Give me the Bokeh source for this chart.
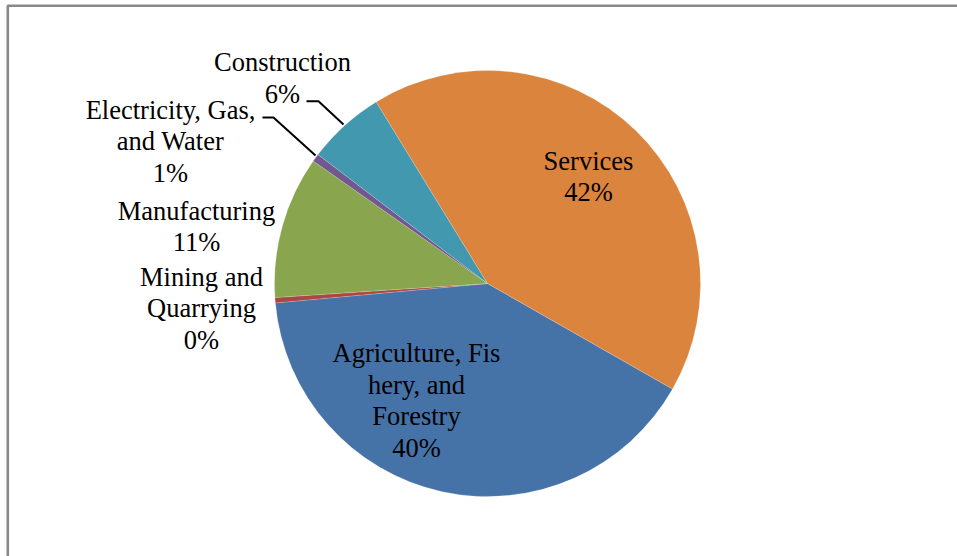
import math
from bokeh.plotting import figure
from bokeh.models import Range1d, ColumnDataSource
from bokeh.core.properties import value
from bokeh.embed import file_html
from bokeh.resources import INLINE

# ---- data ----
sectors = ["Agriculture, Fishery, and Forestry", "Mining and Quarrying", "Manufacturing",
           "Electricity, Gas, and Water", "Construction", "Services"]
label_texts = ["Agriculture, Fis\nhery, and\nForestry", "Mining and\nQuarrying", "Manufacturing",
               "Electricity, Gas,\nand Water", "Construction", "Services"]
shares = [40.3, 0.4, 10.8, 0.6, 5.9, 42.0]
colors = ["#4572A7", "#AA4643", "#89A54E", "#71588F", "#4198AF", "#DB843D"]

# ---- layout (page pixel coordinates) ----
W, H = 957, 556
CX, CY, R = 487, 283, 213
START_DEG = -29.7  # first slice starts here (math angle), going clockwise
label_pos = [(416, 400), (201, 308), (196, 226), (170, 141), (282, 77.5), (588, 176)]
leaders = {
    "Construction": [(306, 100.7), (318, 100.7), (343, 124)],
    "Electricity, Gas, and Water": [(262, 117), (273, 117), (315, 155)],
}

def fy(py):
    return H - py

total = sum(shares)
starts, ends = [], []
acc = 0.0
for v in shares:
    s = START_DEG - acc / total * 360.0
    e = s - v / total * 360.0
    starts.append(math.radians(s))
    ends.append(math.radians(e))
    acc += v

p = figure(width=W, height=H, output_backend="svg", toolbar_location=None,
           x_range=Range1d(0, W), y_range=Range1d(0, H),
           x_axis_type=None, y_axis_type=None, min_border=0,
           background_fill_color="white", border_fill_color="white",
           outline_line_color=None,
           styles={"position": "absolute", "left": "0px", "top": "0px"})
p.grid.visible = False

src = ColumnDataSource(dict(sector=sectors, share=shares, start=starts, end=ends, color=colors))
p.wedge(x=CX, y=fy(CY), radius=R, start_angle="start", end_angle="end", direction="clock",
        fill_color="color", line_color="white", line_width=0.3, line_alpha=0.6, source=src)

# frame
p.line(x=[7.3, 7.3, W + 5], y=[-5, fy(5.3), fy(5.3)], line_color="#888888", line_width=2.6)

# leader lines
for name, pts in leaders.items():
    p.line(x=[q[0] for q in pts], y=[fy(q[1]) for q in pts], line_color="black", line_width=2.0)

texts = [f"{t}\n{int(v + 0.5)}%" for t, v in zip(label_texts, shares)]
p.text(x=[q[0] for q in label_pos], y=[fy(q[1]) for q in label_pos], text=texts,
       text_font=value("Liberation Serif"), text_font_size="26.5px",
       text_align="center", text_baseline="middle", text_color="black",
       text_line_height=1.06)

open("out.html", "w").write(file_html(p, INLINE))
